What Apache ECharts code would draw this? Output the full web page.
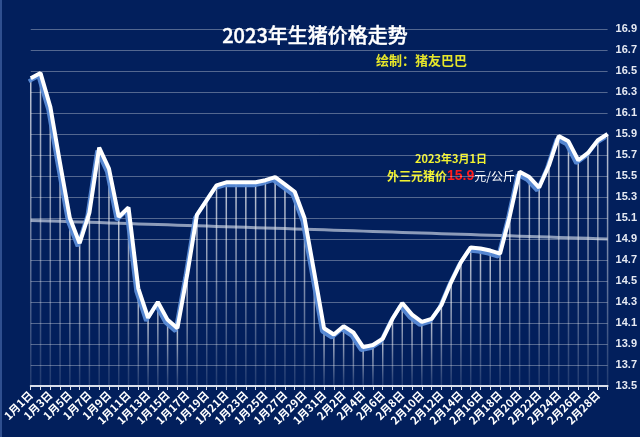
<!DOCTYPE html>
<html><head><meta charset="utf-8">
<script src="https://cdn.jsdelivr.net/npm/echarts@6/dist/echarts.min.js"></script>
<style>html,body{margin:0;padding:0;background:#021f5c;}#c{width:640px;height:437px;}</style>
</head><body><div id="c"></div>
<script>
const categories = [
  '1月1日','1月2日','1月3日','1月4日','1月5日','1月6日','1月7日','1月8日','1月9日','1月10日',
  '1月11日','1月12日','1月13日','1月14日','1月15日','1月16日','1月17日','1月18日','1月19日','1月20日',
  '1月21日','1月22日','1月23日','1月24日','1月25日','1月26日','1月27日','1月28日','1月29日','1月30日',
  '1月31日','2月1日','2月2日','2月3日','2月4日','2月5日','2月6日','2月7日','2月8日','2月9日',
  '2月10日','2月11日','2月12日','2月13日','2月14日','2月15日','2月16日','2月17日','2月18日','2月19日',
  '2月20日','2月21日','2月22日','2月23日','2月24日','2月25日','2月26日','2月27日','2月28日','3月1日'
];
const prices = [
  16.43,16.48,16.16,15.62,15.10,14.86,15.15,15.77,15.57,15.11,
  15.20,14.43,14.15,14.30,14.13,14.05,14.56,15.13,15.27,15.41,
  15.44,15.44,15.44,15.44,15.46,15.49,15.42,15.35,15.10,14.58,
  14.05,13.99,14.07,14.01,13.87,13.89,13.95,14.14,14.29,14.18,
  14.11,14.14,14.27,14.49,14.68,14.82,14.81,14.79,14.76,15.12,
  15.54,15.49,15.39,15.60,15.88,15.83,15.65,15.72,15.84,15.90
];
const axisMin = 13.5, axisMax = 16.9, axisStep = 0.2;
const titleText = '2023年生猪价格走势';
const subText = '绘制：猪友巴巴';
const noteDate = '2023年3月1日';
const notePrice = '15.9';

// linear trendline (least squares) derived from prices
const n = prices.length;
let sx=0, sy=0, sxy=0, sxx=0;
prices.forEach((v,i)=>{ sx+=i; sy+=v; sxy+=i*v; sxx+=i*i; });
const slope = (n*sxy - sx*sy)/(n*sxx - sx*sx);
const intercept = (sy - slope*sx)/n;
const trend = prices.map((_,i)=> +(intercept + slope*i).toFixed(4));

const baseVals = prices.map(()=>axisMin);
const dropVals = prices.map(v=> +(v-axisMin).toFixed(4));

const chart = echarts.init(document.getElementById('c'), null, {renderer:'canvas'});
const FF = 'Noto Sans CJK SC';
chart.setOption({
  backgroundColor:'#021f5c',
  animation:false,
  textStyle:{fontFamily:FF},
  grid:{left:30, right:32, top:29, bottom:51, containLabel:false},
  xAxis:{
    type:'category', data:categories, boundaryGap:false,
    axisLine:{lineStyle:{color:'#d9deea', width:2}},
    axisTick:{show:true, alignWithLabel:true, interval:0, length:4, lineStyle:{color:'#d9deea'}},
    axisLabel:{interval:1, rotate:45, color:'#ffffff', fontSize:11, fontWeight:'bold', fontFamily:FF, margin:7},
    splitLine:{show:false}
  },
  yAxis:{
    type:'value', position:'right', min:axisMin, max:axisMax, interval:axisStep,
    axisLine:{show:false}, axisTick:{show:false},
    axisLabel:{color:'#e6eaf3', fontSize:11, fontWeight:'bold', fontFamily:'Liberation Sans', margin:8,
      formatter:v=>v.toFixed(1)},
    splitLine:{lineStyle:{color:'rgba(255,255,255,0.32)', width:1}}
  },
  graphic:[
    {type:'rect', shape:{x:0,y:0,width:2,height:437}, style:{fill:'#2f4f8f'}, silent:true},
    {type:'text', left:222, top:25, style:{text:titleText, fill:'#ffffff', font:'500 20px "Noto Sans CJK SC"', stroke:'#ffffff', lineWidth:0.4}},
    {type:'text', left:376, top:54, style:{text:subText, fill:'#e6e62a', font:'bold 13px "Noto Sans CJK SC"'}},
    {type:'text', left:415, top:153, style:{text:noteDate, fill:'#f2f230', font:'bold 11px "Noto Sans CJK SC"'}},
    {type:'text', left:387, top:169, style:{
      rich:{
        a:{fill:'#f2f230', fontSize:12, fontWeight:'bold', fontFamily:FF},
        b:{fill:'#ff1a1a', fontSize:14, fontWeight:'bold', fontFamily:'Liberation Sans'},
        c:{fill:'#ffffff', fontSize:12, fontFamily:FF}
      },
      text:'{a|外三元猪价}{b|'+notePrice+'}{c|元/公斤}'
    }}
  ],
  series:[
    {type:'bar', stack:'drop', data:baseVals, barWidth:1.5, itemStyle:{color:'rgba(0,0,0,0)'}, silent:true, z:1},
    {type:'bar', stack:'drop', data:dropVals, barWidth:1.5, silent:true, z:1,
      itemStyle:{color:new echarts.graphic.LinearGradient(0,0,0,1,[
        {offset:0,color:'rgba(255,255,255,0.75)'},{offset:1,color:'rgba(255,255,255,0.12)'}])}},
    {type:'line', data:trend, symbol:'none', silent:true, z:3,
      lineStyle:{color:'rgba(215,222,235,0.65)', width:3}},
    {type:'line', data:prices, symbol:'none', silent:true, z:5,
      lineStyle:{color:'#ffffff', width:4, shadowColor:'rgba(90,140,215,0.95)', shadowBlur:0, shadowOffsetX:-2, shadowOffsetY:3}}
  ]
});
</script></body></html>
